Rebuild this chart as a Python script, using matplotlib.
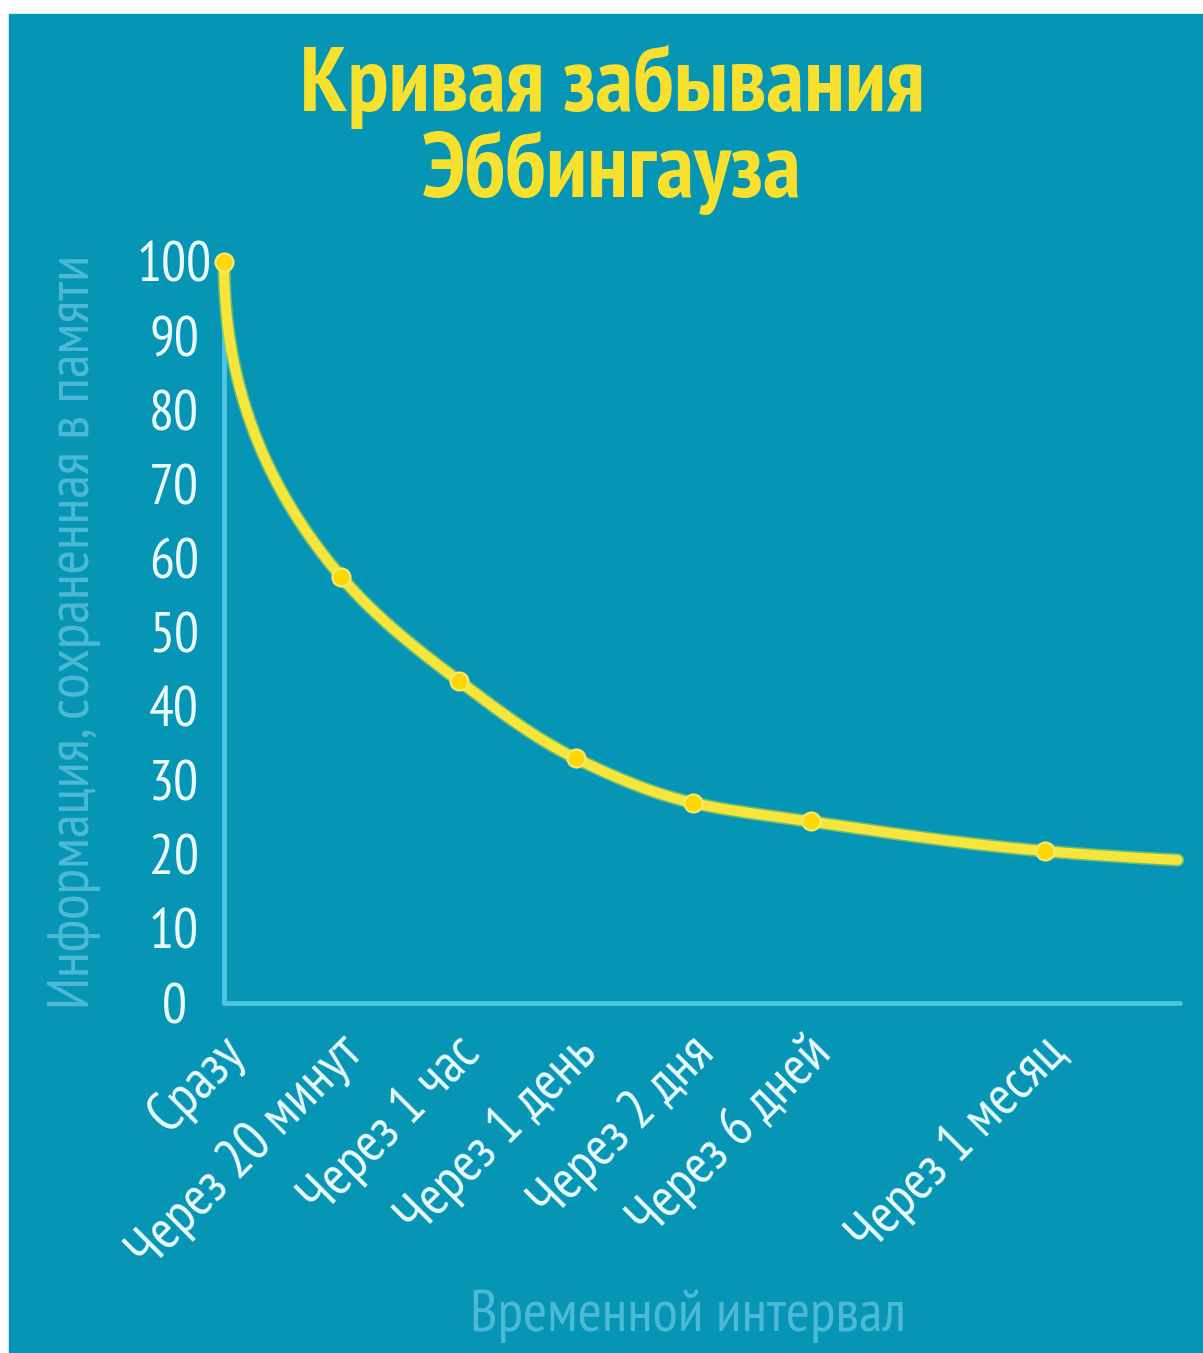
import numpy as np
import matplotlib
matplotlib.use("Agg")
import matplotlib.pyplot as plt
from matplotlib.patches import Rectangle
import matplotlib.patheffects as pe
import matplotlib.transforms as mtransforms

# Data
categories = ["Сразу", "Через 20 минут", "Через 1 час", "Через 1 день",
              "Через 2 дня", "Через 6 дней", "Через 1 месяц"]
positions = [0, 1, 2, 3, 4, 5, 7]
retention = [100, 57.5, 43.5, 33, 27, 24.5, 20.5]
# curve keeps going a bit past the last marker
line_end_x = 8.13
line_end_y = 19.3
y_ticks = [0, 10, 20, 30, 40, 50, 60, 70, 80, 90, 100]

title = "Кривая забывания\nЭббингауза"
y_label = "Информация, сохраненная в памяти"
x_label = "Временной интервал"

# Colours
bg = "#0795b5"
axis_col = "#4ec4df"
faded = "#4cb9d6"
yellow = "#f6e63c"
title_col = "#f7e12e"
marker_col = "#ffd60a"
tick_col = "#eafbff"

fam = ["PT Sans Narrow", "DejaVu Sans"]


def pchip(x, y, xs):
    x = np.asarray(x, float)
    y = np.asarray(y, float)
    h = np.diff(x)
    d = np.diff(y) / h
    n = len(x)
    m = np.zeros(n)
    for k in range(1, n - 1):
        if d[k - 1] * d[k] > 0:
            w1 = 2 * h[k] + h[k - 1]
            w2 = h[k] + 2 * h[k - 1]
            m[k] = (w1 + w2) / (w1 / d[k - 1] + w2 / d[k])
    m[0] = ((2 * h[0] + h[1]) * d[0] - h[0] * d[1]) / (h[0] + h[1])
    m[-1] = ((2 * h[-1] + h[-2]) * d[-1] - h[-1] * d[-2]) / (h[-1] + h[-2])
    out = np.empty_like(xs)
    for i, xv in enumerate(xs):
        k = min(np.searchsorted(x, xv, side="right") - 1, n - 2)
        t = (xv - x[k]) / h[k]
        h00 = 2 * t**3 - 3 * t**2 + 1
        h10 = t**3 - 2 * t**2 + t
        h01 = -2 * t**3 + 3 * t**2
        h11 = t**3 - t**2
        out[i] = h00 * y[k] + h10 * h[k] * m[k] + h01 * y[k + 1] + h11 * h[k] * m[k + 1]
    return out


W, H = 1203, 1353
fig = plt.figure(figsize=(W / 100, H / 100), dpi=100, facecolor="white")
fig.patches.append(Rectangle((9 / W, 0), 1 - 9 / W, (H - 14) / H,
                             transform=fig.transFigure, color=bg, zorder=-10))

ax = fig.add_axes([224 / W, (H - 1003) / H, (1180 - 224) / W, (1003 - 262) / H])
ax.set_facecolor("none")

# smooth line through the points (interpolated on a sqrt-warped x so it
# leaves the first point almost vertically, like the original drawing)
xs_all = np.array(positions + [line_end_x], float)
ys_all = np.array(retention + [line_end_y], float)
uu = np.linspace(0, np.sqrt(line_end_x), 500)
yy = pchip(np.sqrt(xs_all), ys_all, uu)
xx = uu ** 2

ax.plot(xx, yy, color=yellow, lw=7.2, solid_capstyle="round", clip_on=False, zorder=3,
        path_effects=[pe.Stroke(linewidth=9.5, foreground="#b9d64a", alpha=0.55), pe.Normal()])
ax.plot(positions, retention, "o", ms=13, color=marker_col, mec="#f3ec6a", mew=1.5,
        clip_on=False, zorder=4)

ax.set_xlim(0, 8.15)
ax.set_ylim(0, 100)

for s in ["top", "right"]:
    ax.spines[s].set_visible(False)
for s in ["left", "bottom"]:
    ax.spines[s].set_color(axis_col)
    ax.spines[s].set_linewidth(3.5)
    ax.spines[s].set_capstyle("round")

ax.set_yticks(y_ticks)
ax.set_yticklabels([str(v) for v in y_ticks])
ax.tick_params(axis="y", length=0, pad=36, labelsize=40, labelcolor=tick_col)
for lab in ax.get_yticklabels():
    lab.set_ha("center")
    lab.set_family(fam)

ax.set_xticks(positions)
ax.set_xticklabels(categories)
ax.tick_params(axis="x", length=0, pad=17, labelsize=40, labelcolor=tick_col)
offset = mtransforms.ScaledTranslation(-4 / 72, 0, fig.dpi_scale_trans)
for lab in ax.get_xticklabels():
    lab.set_rotation(45)
    lab.set_rotation_mode("anchor")
    lab.set_ha("right")
    lab.set_va("top")
    lab.set_family(fam)
    lab.set_transform(lab.get_transform() + offset)

fig.text(75 / W, 1 - 632 / H, y_label, rotation=90, ha="center", va="center",
         fontsize=42.5, color=faded, family=fam)
fig.text(688 / W, 1 - 1316 / H, x_label, ha="center", va="center",
         fontsize=42, color=faded, family=fam)
fig.text(612 / W, 1 - 130 / H, title, ha="center", va="center", fontsize=66,
         fontweight="bold", color=title_col, family=fam, linespacing=1.02)

fig.savefig("out.png", dpi=100, facecolor="white")
